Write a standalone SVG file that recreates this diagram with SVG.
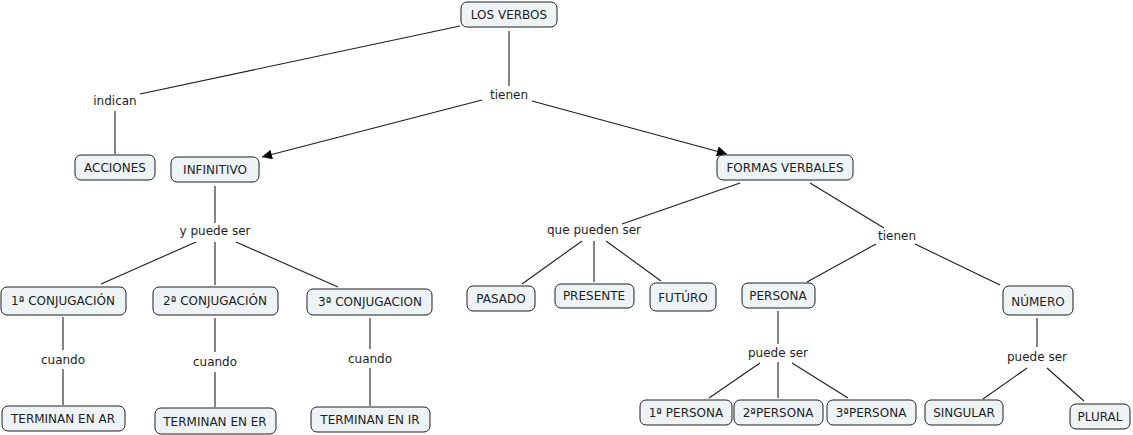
<svg xmlns="http://www.w3.org/2000/svg" width="1133" height="435" viewBox="0 0 1133 435">
<style>
.n rect{fill:#eef3f6;stroke:#1e1e1e;stroke-width:1}
text{font-family:"DejaVu Sans",Verdana,sans-serif;font-size:12px;fill:#1e1e1e;text-anchor:middle}
.c line{stroke:#1e1e1e;stroke-width:1.1}
</style>
<defs>
<marker id="ah" viewBox="0 0 10 10" refX="10" refY="5" markerWidth="13" markerHeight="10" markerUnits="userSpaceOnUse" orient="auto">
<path d="M0,0 L10,5 L0,10 z" fill="#000"/>
</marker>
</defs>
<rect width="1133" height="435" fill="#fff"/>
<g class="c" id="connectors">
<line x1="460" y1="26" x2="140" y2="94"/>
<line x1="115" y1="111" x2="115" y2="154"/>
<line x1="509" y1="31" x2="509" y2="86"/>
<line x1="482" y1="100" x2="262" y2="157" marker-end="url(#ah)"/>
<line x1="532" y1="101" x2="727" y2="154" marker-end="url(#ah)"/>
<line x1="215" y1="186" x2="215" y2="223"/>
<line x1="196" y1="242" x2="101" y2="284"/>
<line x1="215" y1="242" x2="215" y2="285"/>
<line x1="236" y1="242" x2="338" y2="287"/>
<line x1="63" y1="317" x2="63" y2="350"/>
<line x1="63" y1="369" x2="63" y2="405"/>
<line x1="215" y1="318" x2="215" y2="352"/>
<line x1="215" y1="372" x2="215" y2="407"/>
<line x1="370" y1="318" x2="370" y2="349"/>
<line x1="370" y1="368" x2="370" y2="406"/>
<line x1="740" y1="183" x2="622" y2="224"/>
<line x1="582" y1="241" x2="522" y2="284"/>
<line x1="594" y1="241" x2="594" y2="282"/>
<line x1="606" y1="241" x2="661" y2="281"/>
<line x1="810" y1="183" x2="884" y2="228"/>
<line x1="876" y1="244" x2="807" y2="282"/>
<line x1="915" y1="244" x2="1000" y2="285"/>
<line x1="778" y1="311" x2="778" y2="344"/>
<line x1="760" y1="363" x2="709" y2="398"/>
<line x1="778" y1="362" x2="778" y2="398"/>
<line x1="792" y1="363" x2="848" y2="398"/>
<line x1="1037" y1="318" x2="1037" y2="347"/>
<line x1="1027" y1="368" x2="983" y2="399"/>
<line x1="1047" y1="368" x2="1084" y2="401"/>
</g>
<g id="labels">
<text x="115" y="105">indican</text>
<text x="509" y="99">tienen</text>
<text x="215" y="235">y puede ser</text>
<text x="63" y="364">cuando</text>
<text x="215" y="366">cuando</text>
<text x="370" y="363">cuando</text>
<text x="594" y="234">que pueden ser</text>
<text x="897" y="240">tienen</text>
<text x="778" y="357">puede ser</text>
<text x="1037" y="361">puede ser</text>
</g>
<g class="n" id="n-losverbos"><rect x="461" y="2" width="96" height="25" rx="6"/><text x="509" y="19">LOS VERBOS</text></g>
<g class="n" id="n-acciones"><rect x="75" y="155" width="80" height="25" rx="6"/><text x="115" y="172">ACCIONES</text></g>
<g class="n" id="n-infinitivo"><rect x="171" y="157" width="88" height="25" rx="6"/><text x="215" y="174">INFINITIVO</text></g>
<g class="n" id="n-formas"><rect x="717" y="155" width="136" height="25" rx="6"/><text x="785" y="172">FORMAS VERBALES</text></g>
<g class="n" id="n-conj1"><rect x="1" y="287" width="125" height="28" rx="6"/><text x="63" y="305">1ª CONJUGACIÓN</text></g>
<g class="n" id="n-conj2"><rect x="153" y="287" width="125" height="28" rx="6"/><text x="215" y="305">2ª CONJUGACIÓN</text></g>
<g class="n" id="n-conj3"><rect x="307" y="289" width="125" height="26" rx="6"/><text x="370" y="306">3ª CONJUGACION</text></g>
<g class="n" id="n-ar"><rect x="2" y="406" width="123" height="25" rx="6"/><text x="63" y="423">TERMINAN EN AR</text></g>
<g class="n" id="n-er"><rect x="155" y="408" width="121" height="26" rx="6"/><text x="215" y="426">TERMINAN EN ER</text></g>
<g class="n" id="n-ir"><rect x="311" y="407" width="119" height="25" rx="6"/><text x="370" y="424">TERMINAN EN IR</text></g>
<g class="n" id="n-pasado"><rect x="467" y="286" width="68" height="25" rx="6"/><text x="501" y="303">PASADO</text></g>
<g class="n" id="n-presente"><rect x="555" y="284" width="79" height="24" rx="6"/><text x="594" y="300">PRESENTE</text></g>
<g class="n" id="n-futuro"><rect x="650" y="283" width="66" height="28" rx="6"/><text x="683" y="302">FUTÚRO</text></g>
<g class="n" id="n-persona"><rect x="742" y="283" width="73" height="25" rx="6"/><text x="778" y="300">PERSONA</text></g>
<g class="n" id="n-numero"><rect x="1003" y="286" width="70" height="29" rx="6"/><text x="1038" y="306">NÚMERO</text></g>
<g class="n" id="n-p1"><rect x="640" y="400" width="92" height="25" rx="6"/><text x="686" y="417">1ª PERSONA</text></g>
<g class="n" id="n-p2"><rect x="734" y="400" width="89" height="25" rx="6"/><text x="778" y="417">2ªPERSONA</text></g>
<g class="n" id="n-p3"><rect x="827" y="400" width="89" height="25" rx="6"/><text x="871" y="417">3ªPERSONA</text></g>
<g class="n" id="n-singular"><rect x="925" y="400" width="78" height="25" rx="6"/><text x="964" y="417">SINGULAR</text></g>
<g class="n" id="n-plural"><rect x="1070" y="404" width="60" height="25" rx="6"/><text x="1100" y="421">PLURAL</text></g>
</svg>
